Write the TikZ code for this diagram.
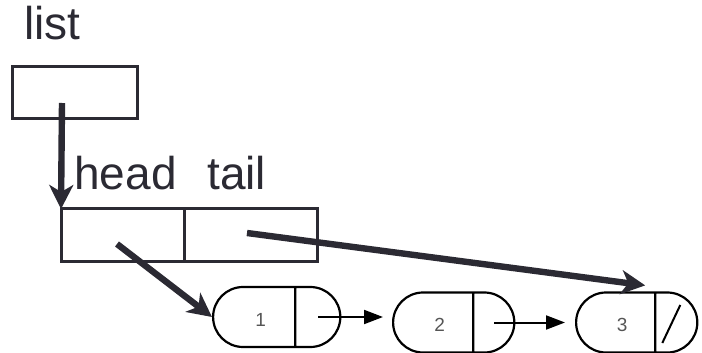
\documentclass[tikz,border=0pt]{standalone}
\usepackage{fontspec}
\setmainfont{Liberation Sans}
\usepackage{tikz}
\usetikzlibrary{arrows.meta,positioning,shapes.multipart}

\definecolor{ink}{HTML}{2B2A33}
\definecolor{digit}{HTML}{555555}

\newcommand{\slot}[2]{\makebox[#1]{\rule[-10.5pt]{0pt}{30pt}#2}}

\tikzset{
  label/.style={anchor=base west,inner sep=0pt,text=ink,font=\fontsize{23}{27}\selectfont},
  box/.style={draw=ink,line width=1.5pt,minimum height=26pt,inner sep=0pt,outer sep=0pt},
  cell/.style={rectangle split,rectangle split horizontal,rectangle split parts=2,
    draw,line width=1.1pt,rounded corners=15pt,inner xsep=0pt,inner ysep=0pt,
    anchor=west,text=digit,font=\fontsize{9.5}{10}\selectfont},
  ptr/.style={draw=ink,line width=3.2pt,-{Stealth[length=12pt,width=12pt,inset=3.5pt]}},
  link/.style={draw,line width=1pt,-{Triangle[length=9.5pt,width=7pt]}}
}

\begin{document}
\begin{tikzpicture}[x=0.5pt,y=-0.5pt]
        \useasboundingbox (0,0) rectangle (702,353);
        \node[label] (list) at (24,40) {list};
        \node[box,minimum width=62.5pt] (var) at (74.5,93) {};
        \node[label] (headtxt) at (74,190) {head};
        \node[label] (tailtxt) at (207,190) {tail};
        \node[box,minimum width=61.5pt] (hd) at (122.5,235) {};
        \node[box,minimum width=66.5pt,right=0pt of hd] (tl) {};
        \node[cell] (n1) at (212,317) {\slot{40.5pt}{\hspace{7pt}1}\nodepart{two}\slot{22pt}{}};
        \node[cell] (n2) at (392,322.5) {\slot{39.5pt}{\hspace{7pt}2}\nodepart{two}\slot{20pt}{}};
        \node[cell] (n3) at (575,322.5) {\slot{39pt}{\hspace{7pt}3}\nodepart{two}\slot{20.5pt}{}};
        \coordinate (listptr) at (62,103);
        \coordinate (headptr) at (117,244);
        \coordinate (tailptr) at (247,233);
        \coordinate (nil) at (n3.two north |- n3.west);
        \draw[ptr] (listptr) -- (hd.north west);
        \draw[ptr] (headptr) -- (n1.west);
        \draw[ptr] (tailptr) -- ([shift={(-10,-6)}]n3.one split north);
        \draw[link,shorten >=4.5pt] (n1.two north |- n1.west) -- (n1.west -| n2.west);
        \draw[link,shorten >=5pt] (n2.two north |- n2.west) -- (n3.west);
        \draw[line width=1pt] ([shift={(3.5,-17.5)}]nil) -- ([shift={(-14.5,20.5)}]nil);
\end{tikzpicture}
\end{document}
